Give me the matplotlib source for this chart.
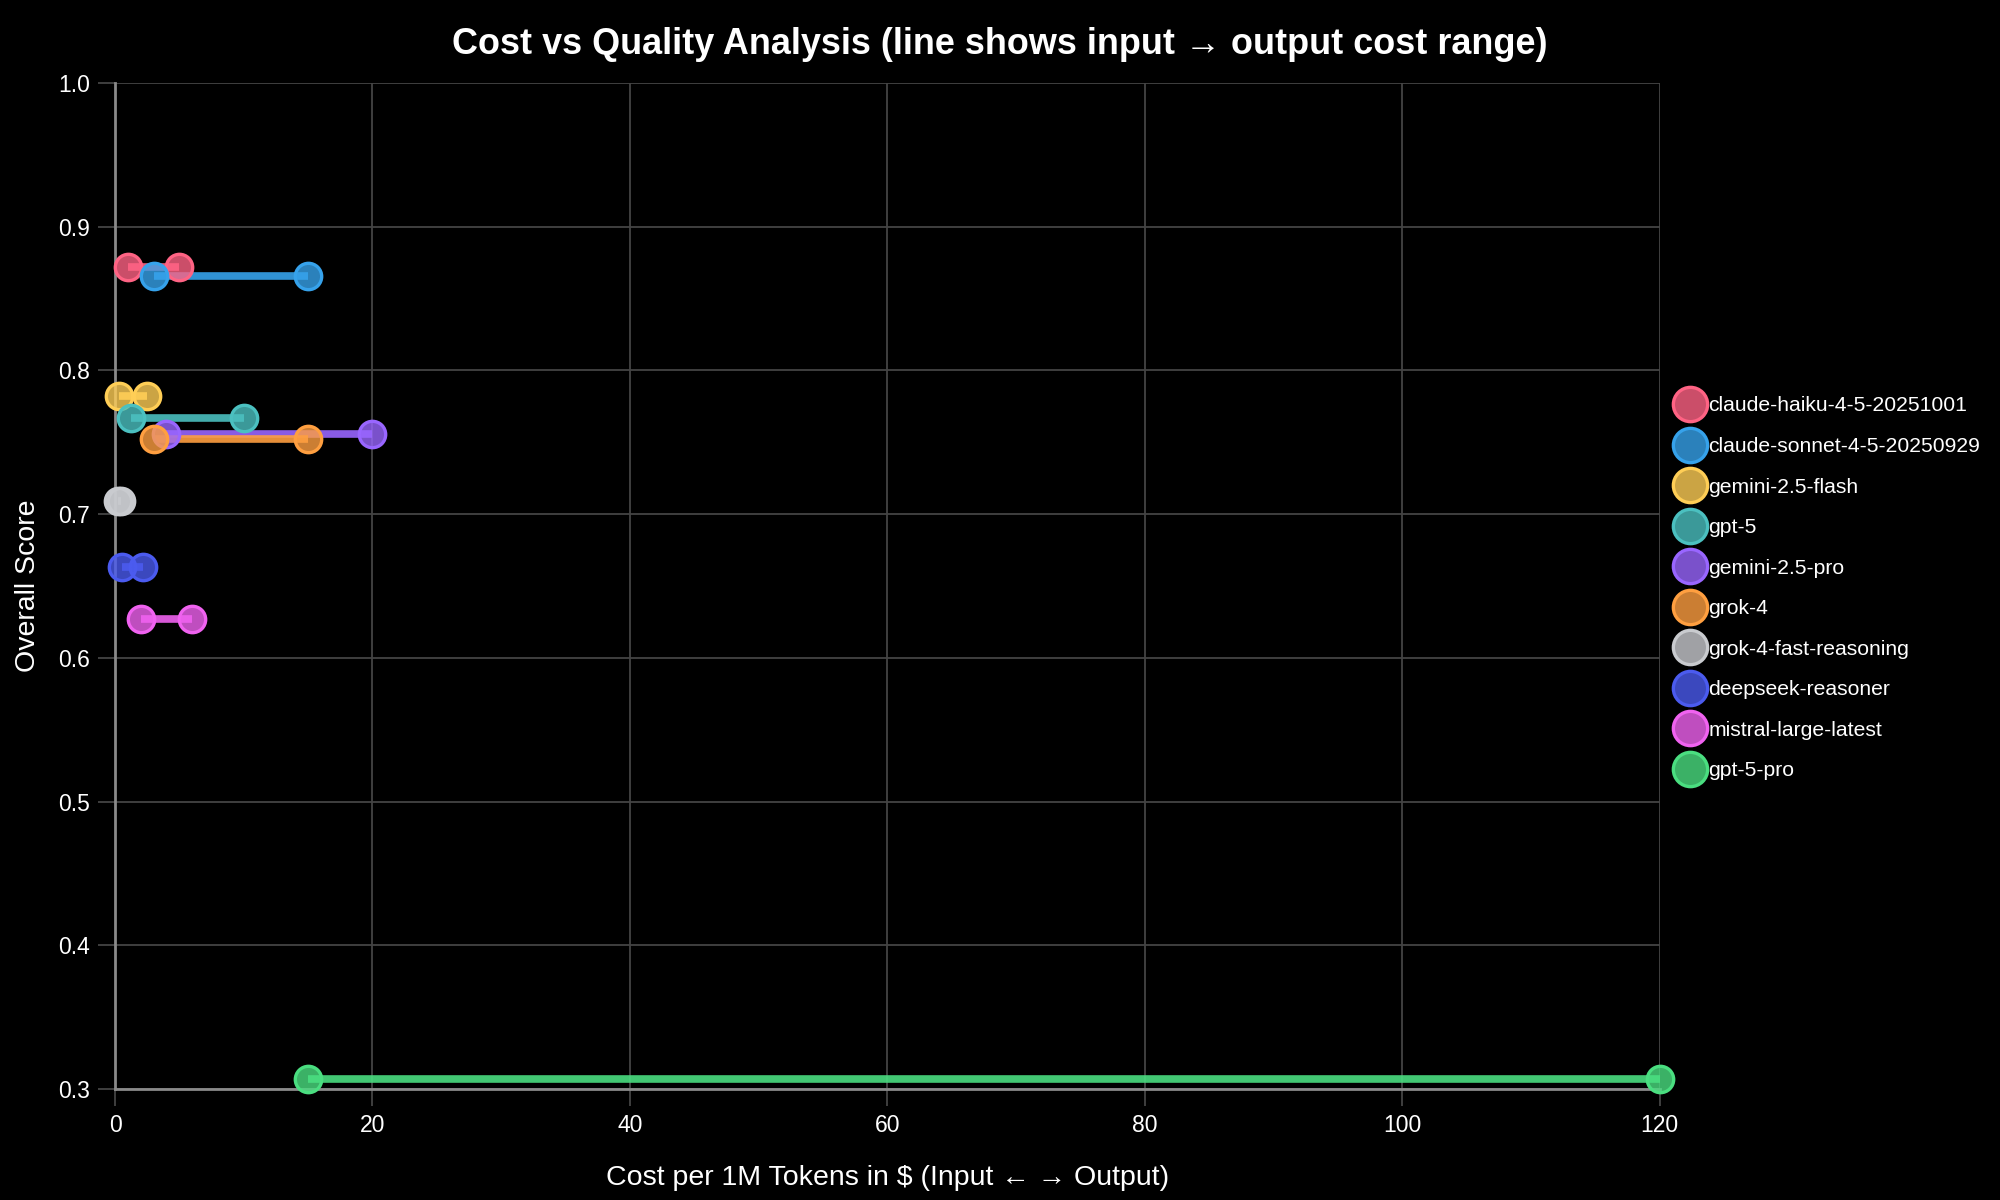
import matplotlib
matplotlib.use("Agg")
from matplotlib import pyplot as plt

plt.rcParams['font.family'] = ['Liberation Sans', 'DejaVu Sans']

models = ['claude-haiku-4-5-20251001', 'claude-sonnet-4-5-20250929', 'gemini-2.5-flash',
          'gpt-5', 'gemini-2.5-pro', 'grok-4', 'grok-4-fast-reasoning',
          'deepseek-reasoner', 'mistral-large-latest', 'gpt-5-pro']
input_cost = [1, 3, 0.3, 1.25, 4, 3, 0.2, 0.55, 2, 15]
output_cost = [5, 15, 2.5, 10, 20, 15, 0.5, 2.19, 6, 120]
score = [0.872, 0.866, 0.782, 0.767, 0.756, 0.752, 0.709, 0.663, 0.627, 0.307]
colors = ['#FF6384', '#36A2EB', '#FFCE56', '#4BC0C0', '#9966FF',
          '#FF9F40', '#C9CBCF', '#4B5BEF', '#F062F0', '#4ADE80']

BG = 'black'
GRID = '#444444'
AXIS = '#8a8a8a'

W, H = 2000, 1200
fig = plt.figure(figsize=(20, 12), dpi=100, facecolor=BG)
left, right, top, bottom = 115, 1659.5, 83, 1089
ax = fig.add_axes([left / W, 1 - bottom / H, (right - left) / W, (bottom - top) / H])
ax.set_facecolor(BG)

for name, x0, x1, y, c in zip(models, input_cost, output_cost, score, colors):
    ax.plot([x0, x1], [y, y], color=c, alpha=0.9, lw=5.5, solid_capstyle='butt', zorder=3)
    ax.plot([x0, x1], [y, y], ls='none', marker='o', markersize=19,
            markerfacecolor=matplotlib.colors.to_rgba(c, 0.8),
            markeredgecolor=c, markeredgewidth=2.4,
            label=name, zorder=4, clip_on=False)

ax.set_xlim(0, 120)
ax.set_ylim(0.3, 1.0)
ax.set_xticks(range(0, 121, 20))
ax.set_yticks([0.3, 0.4, 0.5, 0.6, 0.7, 0.8, 0.9, 1.0])
ax.set_yticklabels(['0.3', '0.4', '0.5', '0.6', '0.7', '0.8', '0.9', '1.0'])
ax.grid(True, color=GRID, lw=1.3, zorder=0)
ax.set_axisbelow(True)
for s in ['top', 'right']:
    ax.spines[s].set_visible(False)
for s in ['left', 'bottom']:
    ax.spines[s].set_color(AXIS)
    ax.spines[s].set_linewidth(2)
ax.tick_params(colors=GRID, labelcolor='white', labelsize=16.5, length=12, width=1.3, pad=6)

ax.set_xlabel('Cost per 1M Tokens in $ (Input ← → Output)', color='white', fontsize=20.5, labelpad=20)
ax.set_ylabel('Overall Score', color='white', fontsize=20.5, labelpad=12)
fig.text(0.5, 1 - 44 / H,
         'Cost vs Quality Analysis (line shows input → output cost range)',
         color='white', fontsize=25.9, fontweight='bold', ha='center', va='center')

leg = ax.legend(loc='upper left', bbox_to_anchor=(1668 / W, 1 - 388 / H),
                bbox_transform=fig.transFigure, frameon=False, fontsize=15.2,
                labelcolor='white', markerscale=1.3, handlelength=1.3,
                handletextpad=0.2, labelspacing=1.02, borderaxespad=0)
for h in leg.legend_handles:
    h.set_linestyle('none')

fig.savefig('out.png', dpi=100, facecolor=BG)
